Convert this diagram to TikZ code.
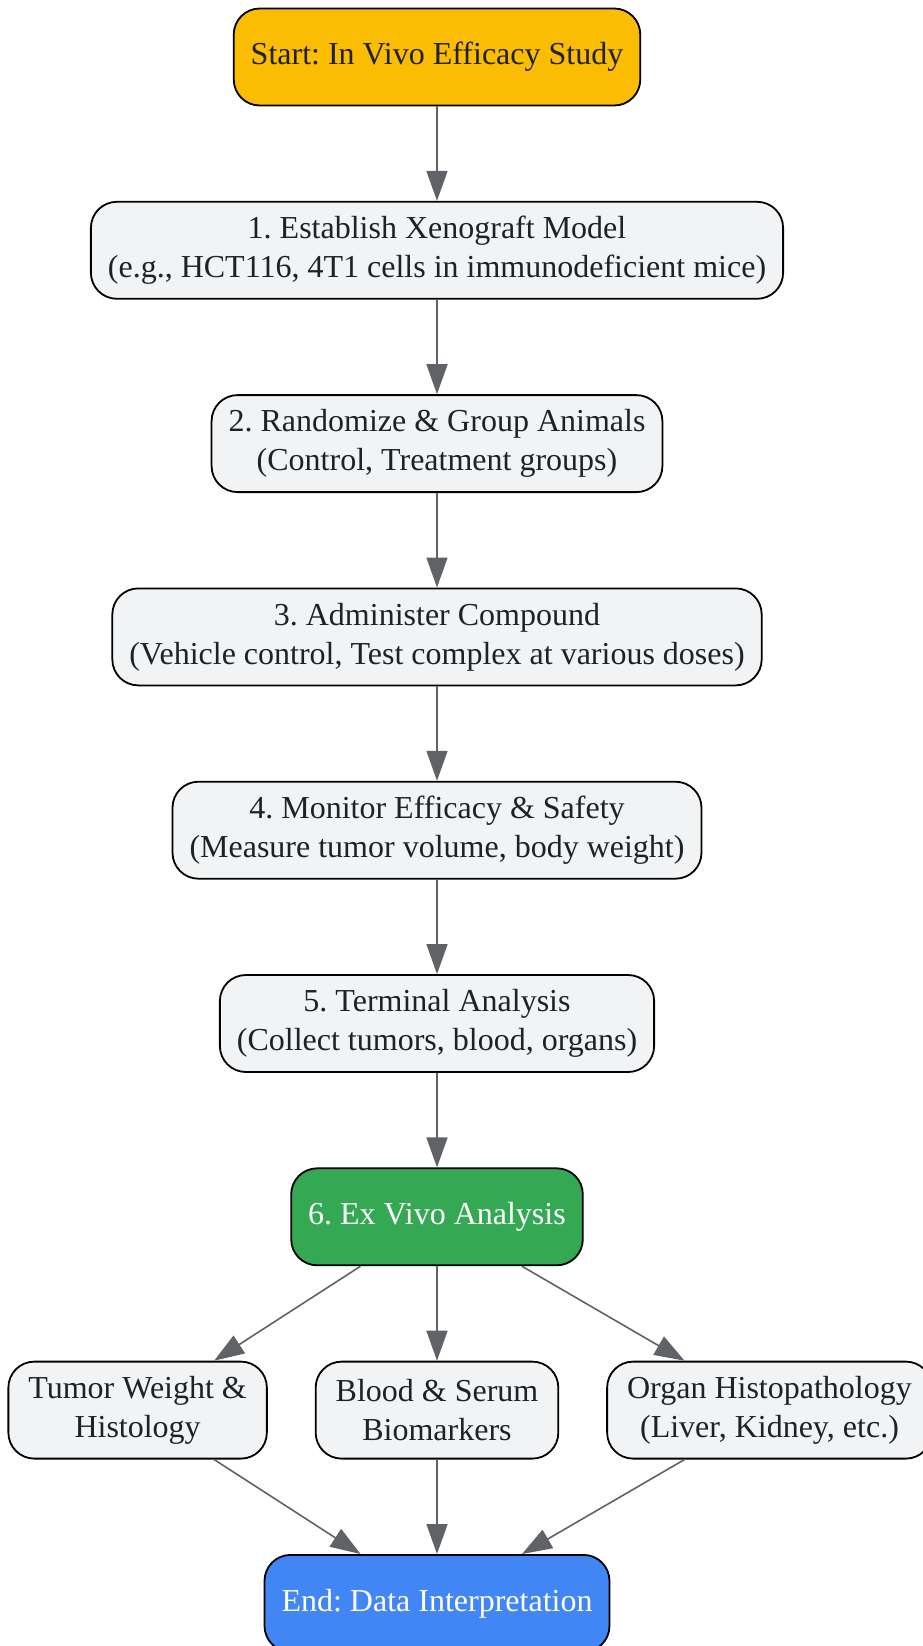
\documentclass[tikz,border=0pt]{standalone}
\usepackage{fontspec}
\setmainfont{Liberation Serif}
\usepackage{xcolor}
\usepackage{tikz}
\usetikzlibrary{arrows.meta, positioning}
\frenchspacing
\definecolor{startyellow}{HTML}{FBBC04}
\definecolor{exgreen}{HTML}{34A853}
\definecolor{endblue}{HTML}{4285F4}
\definecolor{boxgray}{HTML}{F1F3F4}
\definecolor{textdark}{HTML}{202124}
\definecolor{linegray}{HTML}{5F6368}
\tikzstyle{base} = [rectangle, rounded corners=26pt, draw=black, line width=1.8pt, minimum height=97pt, inner xsep=17pt, align=center, text=textdark, font=\fontsize{32}{39}\selectfont]
\tikzstyle{process} = [base, fill=boxgray]
\tikzstyle{readout} = [process, inner xsep=20pt]
\tikzstyle{startnode} = [base, fill=startyellow]
\tikzstyle{exnode} = [base, fill=exgreen, text=white]
\tikzstyle{endnode} = [base, fill=endblue, text=white]
\tikzstyle{arrow} = [line width=1.6pt, draw=linegray, -{Triangle[length=30pt, width=21pt]}]

\begin{document}
\begin{tikzpicture}[x=1pt, y=-1pt, node distance=94.5pt]
        \useasboundingbox (0,0) rectangle (923,1646);

        % Main study steps
        \node (start) [startnode] at (437,57) {Start: In Vivo Efficacy Study};
        \node (model) [process, below=of start] {1. Establish Xenograft Model\\(e.g., HCT116, 4T1 cells in immunodeficient mice)};
        \node (group) [process, below=of model] {2. Randomize \& Group Animals\\(Control, Treatment groups)};
        \node (dose) [process, below=of group] {3. Administer Compound\\(Vehicle control, Test complex at various doses)};
        \node (monitor) [process, below=of dose] {4. Monitor Efficacy \& Safety\\(Measure tumor volume, body weight)};
        \node (terminal) [process, below=of monitor] {5. Terminal Analysis\\(Collect tumors, blood, organs)};
        \node (exvivo) [exnode, below=of terminal] {6. Ex Vivo Analysis};

        % Ex vivo readouts
        \node (blood) [readout, below=of exvivo] {Blood \& Serum\\Biomarkers};
        \node (tumor) [readout, left=47pt of blood] {Tumor Weight \&\\Histology};
        \node (organ) [readout, right=47pt of blood] {Organ Histopathology\\(Liver, Kidney, etc.)};

        \node (end) [endnode, below=of blood] {End: Data Interpretation};

        % Connectors
        \draw [arrow] (start) -- (model);
        \draw [arrow] (model) -- (group);
        \draw [arrow] (group) -- (dose);
        \draw [arrow] (dose) -- (monitor);
        \draw [arrow] (monitor) -- (terminal);
        \draw [arrow] (terminal) -- (exvivo);
        \draw [arrow] (exvivo) -- (tumor);
        \draw [arrow] (exvivo) -- (blood);
        \draw [arrow] (exvivo) -- (organ);
        \draw [arrow] (tumor) -- (end);
        \draw [arrow] (blood) -- (end);
        \draw [arrow] (organ) -- (end);

    \end{tikzpicture}
\end{document}
